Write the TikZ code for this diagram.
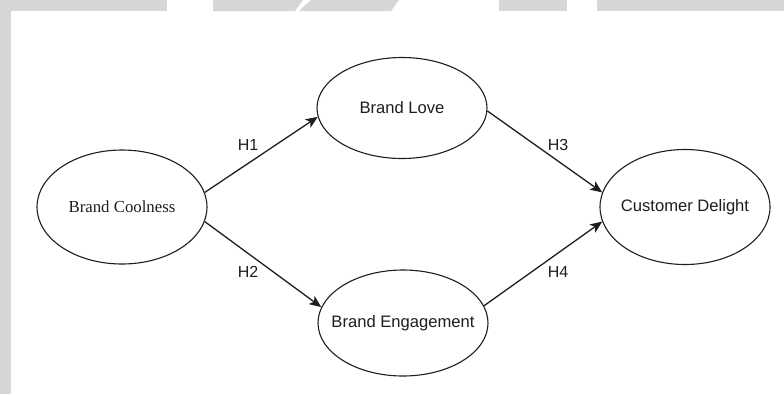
\documentclass[tikz,border=0pt]{standalone}
\usepackage{fontspec}
\setmainfont{Liberation Sans}
\newfontfamily\timesfont{Liberation Serif}
\usetikzlibrary{arrows.meta,shapes.geometric}
\definecolor{bandgray}{HTML}{D6D6D6}
\definecolor{ink}{HTML}{1E1E1E}
\tikzset{
  construct/.style={ellipse, draw=ink, line width=1.1pt, fill=white,
    minimum width=170pt, inner sep=0pt, text=ink, font=\fontsize{16.6}{18}\selectfont},
  path/.style={draw=ink, line width=1.3pt, -{Stealth[length=12pt,width=10pt,inset=3pt]}},
  hlabel/.style={text=ink, font=\fontsize{16}{18}\selectfont, inner sep=0pt},
}
% centred label of zero width, so the ellipse keeps its set size
\newcommand{\lbl}[1]{\makebox[0pt][c]{#1}}
\begin{document}
\begin{tikzpicture}[x=1pt,y=-1pt]
  \useasboundingbox (0,0) rectangle (784,394);
  \fill[white] (0,0) rectangle (784,394);
  % grey page band along the top and left edges
  \fill[bandgray] (0,0) rectangle (11,394);
  \fill[bandgray] (0,0) rectangle (167,11);
  \fill[bandgray] (213,0) -- (303,0) -- (295,11) -- (213,11) -- cycle;
  \fill[bandgray] (311,0) -- (399,0) -- (391,11) -- (299,11) -- cycle;
  \fill[bandgray] (499,0) rectangle (567,11);
  \fill[bandgray] (597,0) rectangle (784,11);

  % constructs
  \node[construct, minimum height=114pt, font=\timesfont\fontsize{16.8}{18}\selectfont] (bc) at (122,207) {\lbl{Brand Coolness}};
  \node[construct, minimum height=101pt] (bl) at (402,108) {\lbl{Brand Love}};
  \node[construct, minimum height=106pt] (be) at (403,323) {\lbl{Brand Engagement}};
  \node[construct, minimum height=115pt] (cd) at (685,207) {\lbl{Customer Delight}};

  % hypothesised paths
  \draw[path] (bc.10) -- (bl.186);
  \draw[path] (bc.-10) -- (be.169);
  \draw[path] (bl.-2) -- (cd.170);
  \draw[path] (be.12) -- (cd.190);

  % path labels
  \node[hlabel] (h1) at (248,145) {H1};
  \node[hlabel] (h2) at (248,272) {H2};
  \node[hlabel] (h3) at (558,145) {H3};
  \node[hlabel] (h4) at (558,272) {H4};
\end{tikzpicture}
\end{document}
